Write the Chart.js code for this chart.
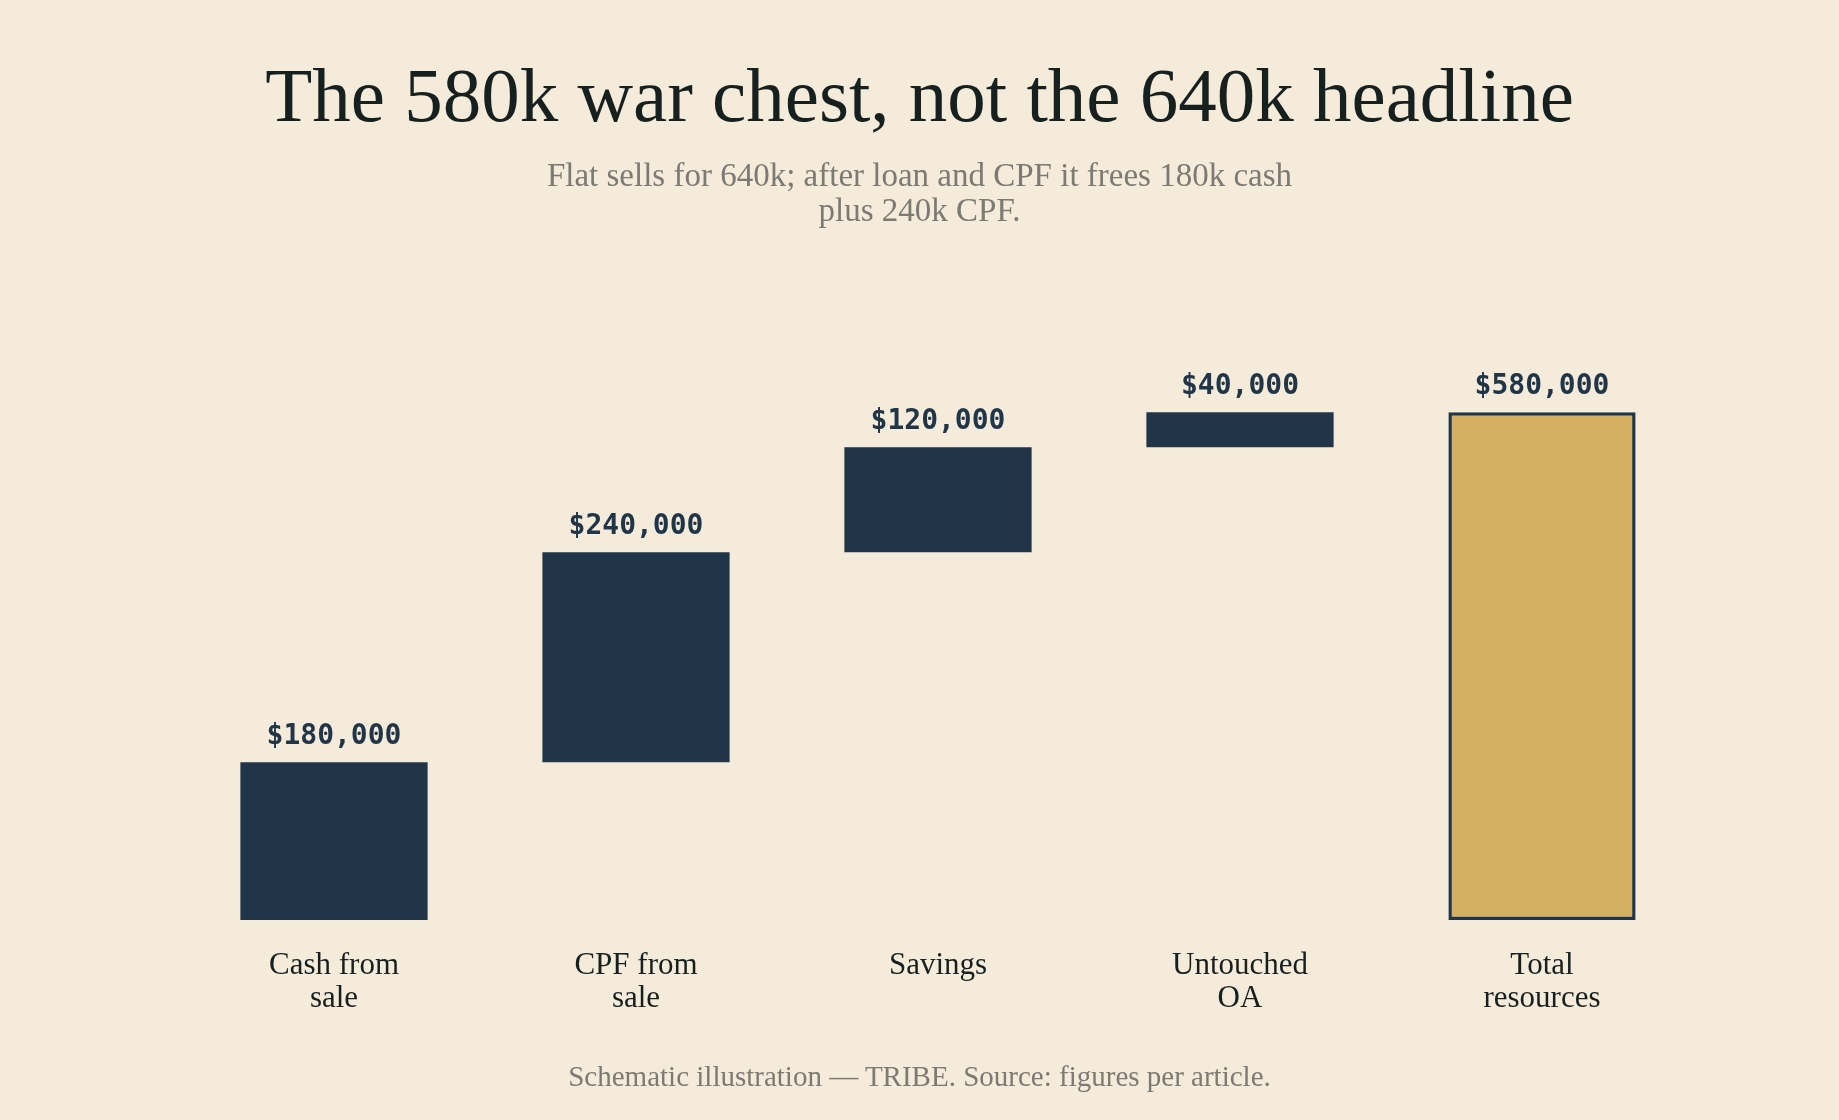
<!DOCTYPE html>
<html>
<head>
<meta charset="utf-8">
<script src="https://cdn.jsdelivr.net/npm/chart.js@4.4.1/dist/chart.umd.min.js"></script>
<style>
  html, body { margin: 0; padding: 0; background: #f5ebda; }
  body { width: 1839px; height: 1120px; position: relative; overflow: hidden; font-family: "Liberation Serif", "DejaVu Serif", serif; }
  #grafico { position: absolute; left: 0; top: 0; }
  .titulo { position: absolute; left: 0; width: 1839px; text-align: center; top: 50px; font-size: 77px; line-height: 90px; color: #16201f; }
  .subtitulo { position: absolute; left: 0; width: 1839px; text-align: center; top: 158px; font-size: 33px; line-height: 35px; color: #7b7a73; }
  .rodape { position: absolute; left: 0; width: 1839px; text-align: center; top: 1059px; font-size: 29px; line-height: 34px; color: #7b7a73; }
</style>
</head>
<body>
<canvas id="grafico" width="1839" height="1120"></canvas>
<div class="titulo">The 580k war chest, not the 640k headline</div>
<div class="subtitulo">Flat sells for 640k; after loan and CPF it frees 180k cash<br>plus 240k CPF.</div>
<div class="rodape">Schematic illustration — TRIBE. Source: figures per article.</div>
<script>
// Categorias e valores da cascata
const categorias = [['Cash from', 'sale'], ['CPF from', 'sale'], ['Savings'], ['Untouched', 'OA'], ['Total', 'resources']];
const passos = [180000, 240000, 120000, 40000];
const total = 580000;

// Monta as barras flutuantes a partir dos passos
const barras = [];
let acumulado = 0;
passos.forEach(v => {
  barras.push([acumulado, acumulado + v]);
  acumulado += v;
});
barras.push([0, total]);
const valores = passos.concat([total]);

const corAzul = '#203548';
const corOuro = '#d4af5f';

// Plugin simples para escrever o valor acima de cada barra
const rotulosValor = {
  id: 'rotulosValor',
  afterDatasetsDraw(chart) {
    const ctx = chart.ctx;
    const meta = chart.getDatasetMeta(0);
    ctx.save();
    ctx.font = 'bold 28px "DejaVu Sans Mono", monospace';
    ctx.fillStyle = corAzul;
    ctx.textAlign = 'center';
    ctx.textBaseline = 'bottom';
    meta.data.forEach((bar, i) => {
      const texto = '$' + valores[i].toLocaleString('en-US');
      ctx.fillText(texto, bar.x, Math.min(bar.y, bar.base) - 12);
    });
    ctx.restore();
  }
};

new Chart(document.getElementById('grafico').getContext('2d'), {
  type: 'bar',
  data: {
    labels: categorias,
    datasets: [{
      data: barras,
      backgroundColor: [corAzul, corAzul, corAzul, corAzul, corOuro],
      borderColor: [corAzul, corAzul, corAzul, corAzul, corAzul],
      borderWidth: [0, 0, 0, 0, 3.5],
      borderSkipped: false,
      categoryPercentage: 1,
      barPercentage: 0.62
    }]
  },
  options: {
    responsive: false,
    devicePixelRatio: 1,
    animation: false,
    layout: { padding: { left: 183, right: 146, top: 351, bottom: 75 } },
    plugins: { legend: { display: false }, tooltip: { enabled: false } },
    scales: {
      x: {
        grid: { display: false, drawTicks: false },
        border: { display: false },
        ticks: {
          padding: 30,
          color: '#16201f',
          font: { family: '"Liberation Serif", serif', size: 31, lineHeight: 1.05 }
        }
      },
      y: {
        display: false,
        min: 0,
        max: 650000
      }
    }
  },
  plugins: [rotulosValor]
});
</script>
</body>
</html>
